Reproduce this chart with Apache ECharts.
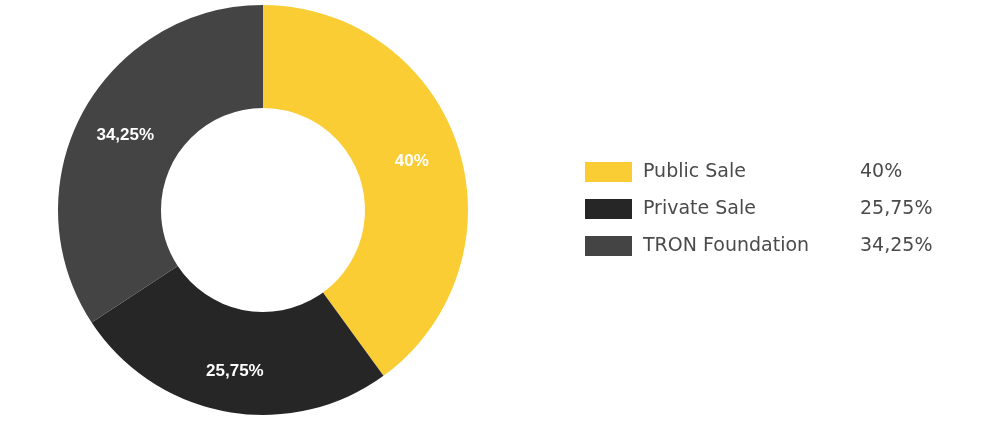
<!DOCTYPE html>
<html>
<head>
<meta charset="utf-8">
<script src="https://cdn.jsdelivr.net/npm/echarts@6/dist/echarts.min.js"></script>
<style>
html,body{margin:0;padding:0;background:#fff;}
#chart{width:990px;height:437px;}
</style>
</head>
<body>
<div id="chart"></div>
<script>
const categories = ['Public Sale', 'Private Sale', 'TRON Foundation'];
const values = [40, 25.75, 34.25];
const valueLabels = ['40%', '25,75%', '34,25%'];
const colors = ['#FBCD35', '#262626', '#444444'];

const chart = echarts.init(document.getElementById('chart'));
const data = categories.map((c, i) => ({ name: c, value: values[i], itemStyle: { color: colors[i] } }));
data[1].label = { offset: [0, 7] };
chart.setOption({
  animation: false,
  legend: {
    orient: 'vertical',
    left: 580,
    top: 157,
    itemWidth: 47,
    itemHeight: 20,
    itemGap: 17,
    icon: 'rect',
    data: categories,
    formatter: function (name) {
      const i = categories.indexOf(name);
      return '{n|' + name + '}{v|' + valueLabels[i] + '}';
    },
    textStyle: {
      rich: {
        n: { fontFamily: 'DejaVu Sans', fontSize: 19, color: '#4a4a4a', width: 217, padding: [0, 0, 0, 6] },
        v: { fontFamily: 'DejaVu Sans', fontSize: 19, color: '#4a4a4a' }
      }
    }
  },
  series: [{
    type: 'pie',
    center: [263, 210],
    radius: [102, 205],
    startAngle: 90,
    clockwise: true,
    avoidLabelOverlap: false,
    label: {
      show: true,
      position: 'inside',
      formatter: function (p) { return valueLabels[p.dataIndex]; },
      color: '#fff',
      fontFamily: 'Liberation Sans',
      fontWeight: 'bold',
      fontSize: 17
    },
    labelLine: { show: false },
    emphasis: { disabled: true },
    data: data
  }]
});
</script>
</body>
</html>
